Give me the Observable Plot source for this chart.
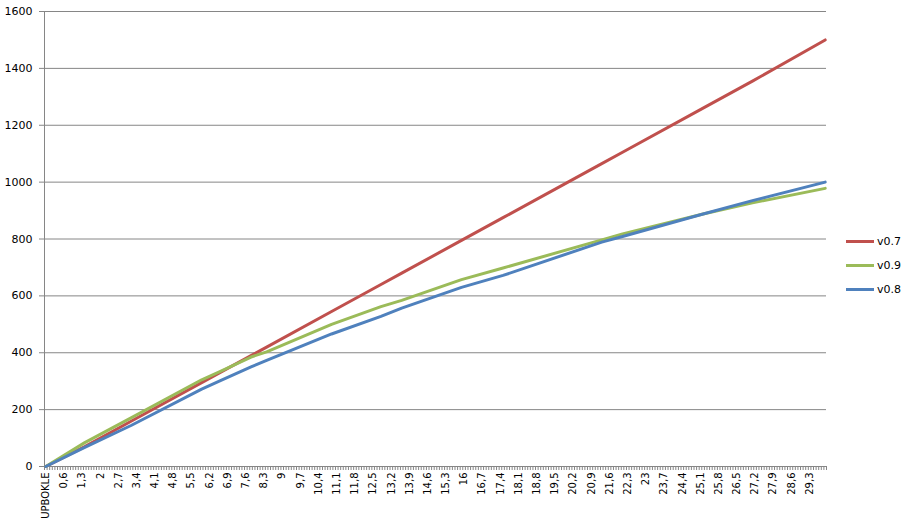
<!DOCTYPE html>
<html><head><meta charset="utf-8">
<script src="https://cdn.jsdelivr.net/npm/d3@7"></script>
<script src="https://cdn.jsdelivr.net/npm/@observablehq/plot@0.6"></script>
<style>
body{margin:0;background:#fff;}
#wrap{position:relative;width:907px;height:531px;font-family:"DejaVu Sans",sans-serif;}
#legend{position:absolute;left:846px;top:229px;font-size:11px;color:#000;}
.item{display:flex;align-items:center;height:24px;}
.sw{width:28px;height:3px;margin-right:3px;}
</style></head><body><div id="wrap"><div id="legend"></div></div>
<script>
// series (legend order)
const seriesNames = ["v0.7", "v0.9", "v0.8"];
const seriesColors = ["#C0504D", "#9BBB59", "#4F81BD"];
// category axis: first category, then 0 .. 29,9 in steps of 0,1
const firstCategory = "UPBOKLE";
const lastTenths = 299;
// values at these categories
const sampleCategories = ["UPBOKLE","1,4","3,2","5,9","6,6","7,8","8,4","10,9","12,8","13,6","15,9","17,5","21,3","22,1","25,2","27,1","29,9"];
const v07 = [0, 70, 160, 295, 330, 390, 420, 545, 640, 680, 795, 875, 1065, 1105, 1260, 1355, 1500];
const v09 = [0, 84, 172, 305, 334, 385, 403, 500, 562, 584, 657, 698, 797, 818, 888, 927, 978];
const v08 = [0, 67, 145, 272, 301, 350, 373, 466, 528, 557, 630, 672, 789, 809, 888, 935, 1000];
const yTicks = [0, 200, 400, 600, 800, 1000, 1200, 1400, 1600];
const labelEvery = 7;

const fmt = t => (t / 10).toFixed(1).replace(/\.0$/, "").replace(".", ",");
const categories = [firstCategory];
for (let t = 0; t <= lastTenths; t++) categories.push(fmt(t));
const n = categories.length;
const idx = new Map(categories.map((c, i) => [c, i]));

const seriesValues = [v07, v09, v08];
const rows = [];
seriesNames.forEach((s, k) => sampleCategories.forEach((c, j) =>
  rows.push({series: s, category: c, i: idx.get(c), value: seriesValues[k][j]})));

const boundaries = d3.range(n + 1).map(i => i - 0.5);
const labelIdx = d3.range(0, n, labelEvery);
const grey = "#868686";

const chart = Plot.plot({
  width: 907, height: 531,
  marginLeft: 44, marginRight: 81, marginTop: 11, marginBottom: 65,
  style: {fontFamily: "DejaVu Sans, sans-serif", fontSize: "10px", color: "#000", background: "#fff"},
  x: {type: "linear", domain: [-0.5, n - 0.5]},
  y: {domain: [0, 1600]},
  color: {domain: seriesNames, range: seriesColors},
  marks: [
    Plot.ruleY(yTicks, {stroke: grey, strokeWidth: 1}),
    Plot.ruleX([-0.5], {stroke: grey, strokeWidth: 1}),
    Plot.axisY({ticks: yTicks, tickSize: 5, tickPadding: 7, stroke: grey, tickFormat: d3.format("d"), fontSize: 11, label: null}),
    Plot.axisX({ticks: boundaries, tickSize: 4, tickFormat: () => "", stroke: grey, label: null}),
    Plot.axisX({ticks: labelIdx, tickSize: 0, tickPadding: 6, tickRotate: -90, tickFormat: i => categories[i], fontSize: 10, label: null}),
    Plot.line(rows, {x: "i", y: "value", z: "series", stroke: "series", strokeWidth: 3})
  ]
});
document.getElementById("wrap").prepend(chart);

const legend = document.getElementById("legend");
seriesNames.forEach((s, k) => {
  const it = document.createElement("div"); it.className = "item";
  const sw = document.createElement("div"); sw.className = "sw"; sw.style.background = seriesColors[k];
  const tx = document.createElement("span"); tx.textContent = s;
  it.append(sw, tx); legend.append(it);
});
</script></body></html>
